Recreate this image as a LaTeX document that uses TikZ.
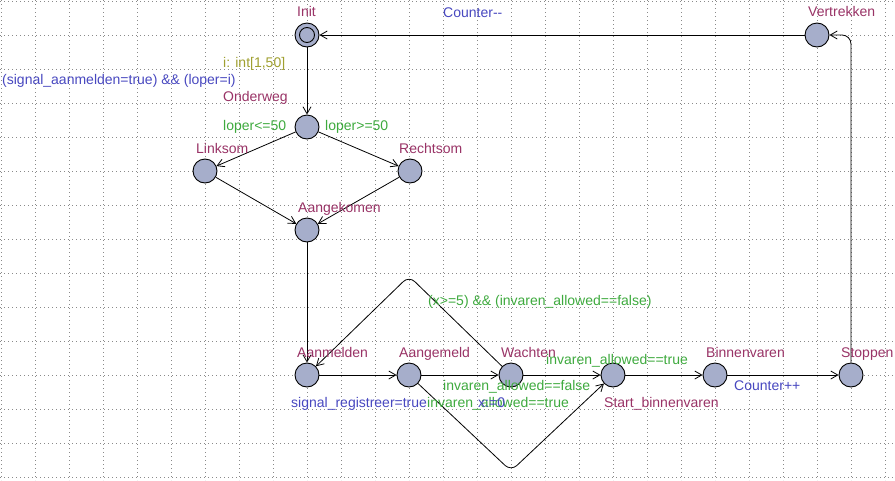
\documentclass[tikz,border=0pt]{standalone}
\usepackage{fontspec}
\setmainfont{Liberation Sans}
\usetikzlibrary{arrows.meta}
\definecolor{namecol}{HTML}{993366}
\definecolor{assigncol}{HTML}{4848C0}
\definecolor{guardcol}{HTML}{3EAA3E}
\definecolor{selcol}{HTML}{A0A030}
\definecolor{locfill}{HTML}{A6AECB}
\definecolor{gridcol}{HTML}{8A8A8A}
\begin{document}
\begin{tikzpicture}[x=1pt,y=-1pt,
  griddot/.style={gridcol,line width=0.8pt,dash pattern=on 0.8pt off 3.2pt},
  loc/.style={circle,draw=black,line width=0.9pt,fill=locfill,minimum size=24pt,inner sep=0pt},
  edge/.style={line width=0.8pt,-{Straight Barb[length=7pt,width=8pt]}},
  lbl/.style={anchor=base west,inner sep=0pt,font=\fontsize{14}{16}\selectfont},
  nm/.style={lbl,text=namecol},
  asg/.style={lbl,text=assigncol},
  grd/.style={lbl,text=guardcol},
  sel/.style={lbl,text=selcol}]
\useasboundingbox (0,0) rectangle (895,480);
\fill[white] (0,0) rectangle (895,480);
\foreach \i in {0,...,26} \draw[griddot] (1+34*\i,0) -- (1+34*\i,480);
\foreach \j in {0,...,14} \draw[griddot] (0,1+34*\j) -- (895,1+34*\j);

% locations
\node[loc] (init) at (307,35) {};
\node[circle,draw=black,line width=0.9pt,minimum size=15pt,inner sep=0pt] (initin) at (init) {};
\node[loc] (vert) at (817,35) {};
\node[loc] (onder) at (307,127) {};
\node[loc] (links) at (205,171) {};
\node[loc] (rechts) at (410,171) {};
\node[loc] (aangek) at (307,230) {};
\node[loc] (aanmelden) at (307,375) {};
\node[loc] (aangemeld) at (409,375) {};
\node[loc] (wachten) at (511,375) {};
\node[loc] (start) at (613,375) {};
\node[loc] (binnen) at (715,375) {};
\node[loc] (stoppen) at (851,375) {};

% waypoints
\coordinate (peak) at (409,276);
\coordinate (dip) at (511,471);
\coordinate (corner) at (851,35);

% edges
\draw[edge] (vert) -- (init);
\draw[edge] (init) -- (onder);
\draw[edge] (onder) -- (links);
\draw[edge] (onder) -- (rechts);
\draw[edge] (links) -- (aangek);
\draw[edge] (rechts) -- (aangek);
\draw[edge] (aangek) -- (aanmelden);
\draw[edge] (aanmelden) -- (aangemeld);
\draw[edge] (aangemeld) -- (wachten);
\draw[edge] (wachten) -- (start);
\draw[edge] (start) -- (binnen);
\draw[edge] (binnen) -- (stoppen);
\draw[edge,rounded corners=8pt] (wachten) -- (peak) -- (aanmelden);
\draw[edge,rounded corners=8pt] (aangemeld) -- (dip) -- (start);
\draw[edge,rounded corners=9pt] (stoppen) -- (corner) -- (vert);

% location names
\node[nm] (nInit) at (297,16) {Init};
\node[nm] (nVert) at (808,16) {Vertrekken};
\node[nm] (nOnder) at (223,101) {Onderweg};
\node[nm] (nLinks) at (196,153) {Linksom};
\node[nm] (nRechts) at (399,153) {Rechtsom};
\node[nm] (nAangek) at (298,212) {Aangekomen};
\node[nm] (nAanmelden) at (297,357) {Aanmelden};
\node[nm] (nAangemeld) at (399,357) {Aangemeld};
\node[nm] (nWachten) at (501,357) {Wachten};
\node[nm] (nBinnen) at (706,357) {Binnenvaren};
\node[nm] (nStoppen) at (841,357) {Stoppen};
\node[nm] (nStart) at (604,407) {Start\_binnenvaren};

% edge labels
\node[asg] (lCountM) at (443,17) {Counter-{}-};
\node[sel] (lSel) at (223,67) {i: int[1,50]};
\node[asg] (lSync) at (2,84) {(signal\_aanmelden=true) \&\& (loper=i)};
\node[grd] (lLe) at (223,130) {loper<=50};
\node[grd] (lGe) at (325,130) {loper>=50};
\node[grd] (lX5) at (428,305) {(x>=5) \&\& (invaren\_allowed==false)};
\node[grd] (lTrueUp) at (546,364) {invaren\_allowed==true};
\node[grd] (lFalse) at (443,390) {invaren\_allowed==false};
\node[asg] (lReg) at (291,407) {signal\_registreer=true};
\node[grd] (lTrueLow) at (427,407) {invaren\_allowed==true};
\node[asg] (lX0) at (478,407) {x:=0};
\node[asg] (lCountP) at (734,390) {Counter++};
\end{tikzpicture}
\end{document}
